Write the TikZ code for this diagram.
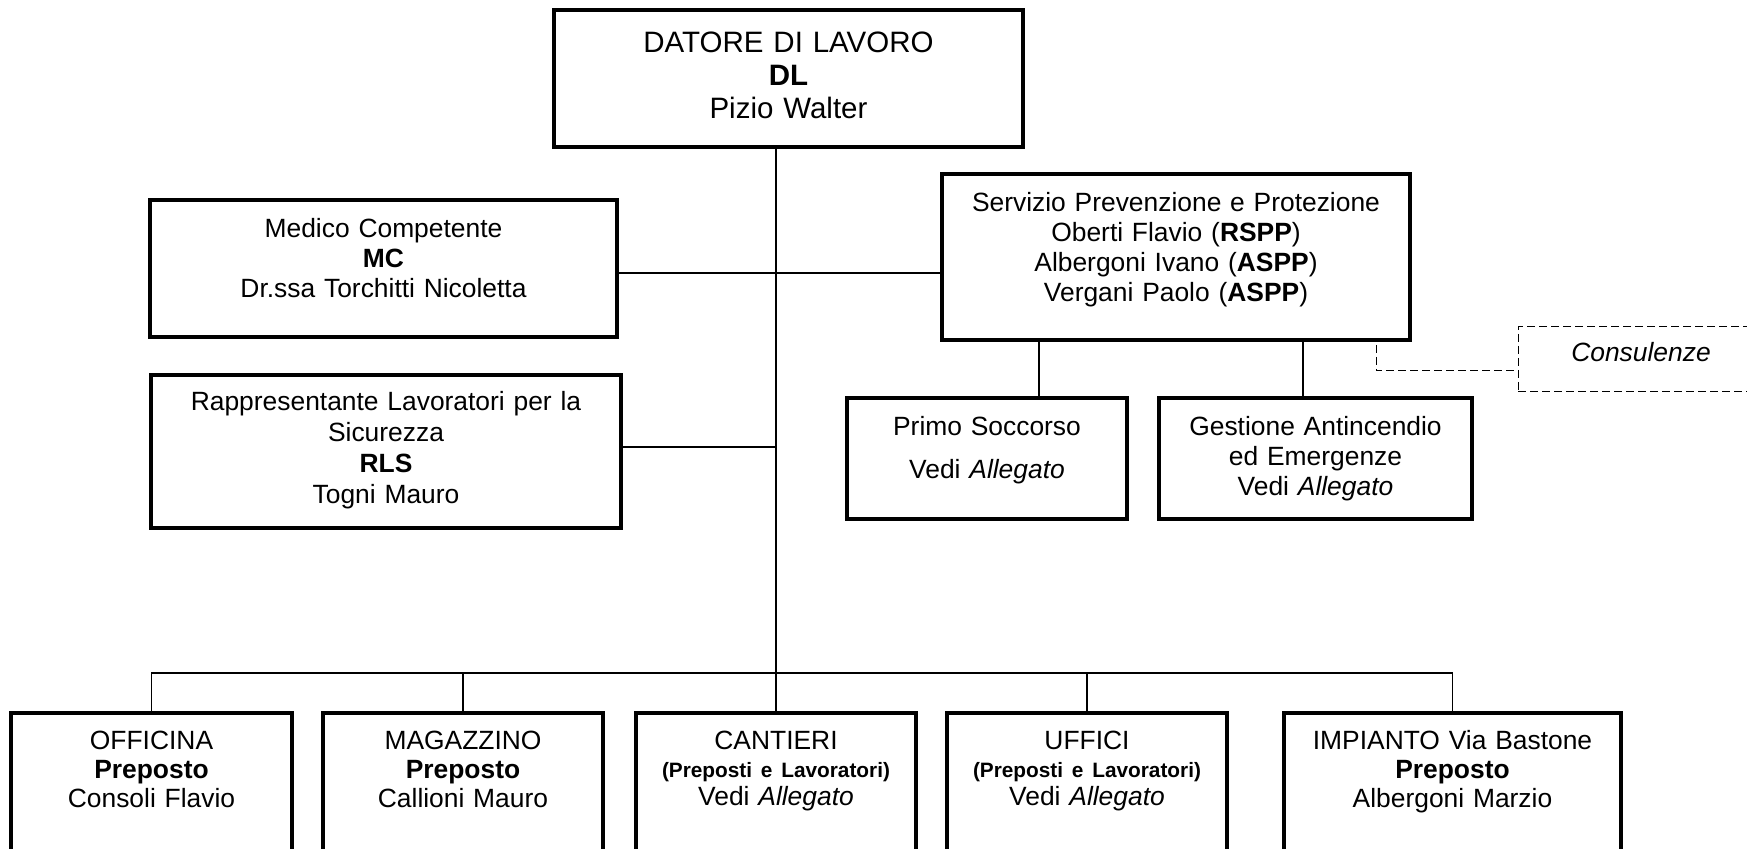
\documentclass[tikz,border=0pt]{standalone}
\usepackage{fontspec}
\setmainfont{Liberation Sans}
\usetikzlibrary{positioning}

\begin{document}
\begin{tikzpicture}[
        x=0.5pt, y=-0.5pt,
        box/.style={draw, line width=1.6pt, inner sep=0pt, outer sep=0pt, align=center, anchor=north, font=\fontsize{13.2pt}{15pt}\selectfont},
        unitBox/.style={box, text width=140pt, text height=18.5pt, text depth=65pt, font=\fontsize{13.2pt}{14.5pt}\selectfont},
        consBox/.style={box, line width=0.5pt, dash pattern=on 4pt off 2pt},
        link/.style={line width=0.8pt},
        dashLink/.style={line width=0.5pt, dash pattern=on 4pt off 2pt}
    ]
        \useasboundingbox (0,0) rectangle (1747,849);

        % Nodes
        \node[box, text width=234.5pt, text height=21.25pt, text depth=47.25pt, font=\fontsize{14.75pt}{16.5pt}\selectfont] (dl) at (788.5,10) {DATORE DI LAVORO\\ \textbf{DL}\\ Pizio Walter};

        \node[box, text width=233.5pt, text height=18.75pt, text depth=49.75pt] (mc) at (383.5,200) {Medico Competente\\ \textbf{MC}\\ Dr.ssa Torchitti Nicoletta};
        \node[box, text width=235pt, text height=17.75pt, text depth=58.75pt, font=\fontsize{13.2pt}{15.5pt}\selectfont] (rls) at (386,375) {Rappresentante Lavoratori per la\\ Sicurezza\\ \textbf{RLS}\\ Togni Mauro};

        \node[box, text width=234pt, text height=19pt, text depth=64pt] (spp) at (1176,174) {Servizio Prevenzione e Protezione\\ Oberti Flavio (\textbf{RSPP})\\ Albergoni Ivano (\textbf{ASPP})\\ Vergani Paolo (\textbf{ASPP})};
        \node[box, text width=140pt, text height=19pt, text depth=41.5pt] (ps) at (987,398) {Primo Soccorso\\[6.5pt] Vedi \textit{Allegato}};
        \node[box, text width=156.5pt, text height=19pt, text depth=41.5pt] (ga) at (1315.5,398) {Gestione Antincendio\\ ed Emergenze\\ Vedi \textit{Allegato}};
        \node[consBox, text width=123pt, text height=17.5pt, text depth=15pt] (cons) at (1641,327) {\textit{Consulenze}};

        % Units
        \node[unitBox, text width=140.5pt] (off) at (151.5,713) {OFFICINA\\ \textbf{Preposto}\\ Consoli Flavio};
        \node[unitBox, right=15.5pt of off] (mag) {MAGAZZINO\\ \textbf{Preposto}\\ Callioni Mauro};
        \node[unitBox, right=16.5pt of mag] (cant) {CANTIERI\\[-0.5pt] {\fontsize{10.4pt}{13pt}\selectfont\bfseries (Preposti e Lavoratori)}\\[-0.5pt] Vedi \textit{Allegato}};
        \node[unitBox, right=15.5pt of cant] (uff) {UFFICI\\[-0.5pt] {\fontsize{10.4pt}{13pt}\selectfont\bfseries (Preposti e Lavoratori)}\\[-0.5pt] Vedi \textit{Allegato}};
        \node[unitBox, text width=168.5pt, right=28.5pt of uff] (imp) {IMPIANTO Via Bastone\\ \textbf{Preposto}\\ Albergoni Marzio};

        % Lines
        \draw[link] (dl.south -| cant.north) -- (cant.north);
        \draw[link] ([yshift=-2.25pt]mc.east) -- ([yshift=-2.25pt]mc.east -| spp.west);
        \draw[link] ([yshift=2.25pt]rls.east) -- ([yshift=2.25pt]rls.east -| cant.north);
        \draw[link] ([xshift=26pt]ps.north) -- ([xshift=26pt]ps.north |- spp.south);
        \draw[link] ([xshift=-6.25pt]ga.north) -- ([xshift=-6.25pt]ga.north |- spp.south);
        \draw[dashLink] ([xshift=-17pt, yshift=-2.5pt]spp.south east) |- ([yshift=-5.75pt]cons.west);

        \draw[link] (off.north) -- ++(0,-40) -| (imp.north);
        \draw[link] (mag.north) -- ++(0,-40);
        \draw[link] (uff.north) -- ++(0,-40);
    \end{tikzpicture}
\end{document}
